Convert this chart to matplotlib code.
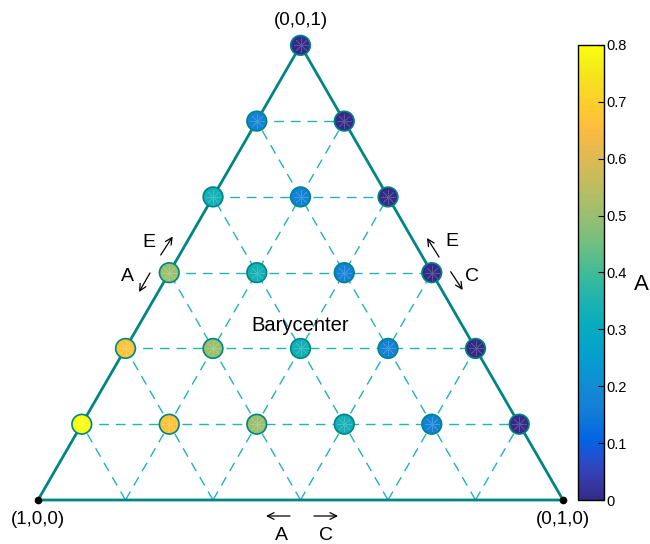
import numpy as np
import matplotlib
matplotlib.use("Agg")
import matplotlib.pyplot as plt
from matplotlib.colors import LinearSegmentedColormap, Normalize

plt.rcParams['font.family'] = ['Liberation Sans', 'DejaVu Sans']

# ternary grid nodes, in sixths (a + b + c = 6)
node_a = [0, 1, 0, 2, 1, 0, 3, 2, 1, 0, 4, 3, 2, 1, 0, 5, 4, 3, 2, 1, 0]
node_c = [6, 5, 5, 4, 4, 4, 3, 3, 3, 3, 2, 2, 2, 2, 2, 1, 1, 1, 1, 1, 1]
node_val = [0.0,
            0.17, 0.0,
            0.33, 0.17, 0.0,
            0.5, 0.33, 0.17, 0.0,
            0.67, 0.5, 0.33, 0.17, 0.0,
            0.83, 0.67, 0.5, 0.33, 0.17, 0.0]
cbar_ticks = [0, 0.1, 0.2, 0.3, 0.4, 0.5, 0.6, 0.7, 0.8]
n_div = 6

# parula-like colormap
parula = LinearSegmentedColormap.from_list("parula", [
    (0.2081, 0.1663, 0.5292), (0.2123, 0.2138, 0.6270), (0.1959, 0.2645, 0.7279),
    (0.1253, 0.3242, 0.8303), (0.0117, 0.3875, 0.8820), (0.0329, 0.4430, 0.8720),
    (0.0723, 0.4887, 0.8467), (0.0793, 0.5200, 0.8312), (0.0641, 0.5570, 0.8240),
    (0.0343, 0.5966, 0.8199), (0.0239, 0.6287, 0.8038), (0.0228, 0.6535, 0.7768),
    (0.0384, 0.6743, 0.7436), (0.0843, 0.6928, 0.7062), (0.1453, 0.7098, 0.6646),
    (0.2178, 0.7250, 0.6193), (0.3022, 0.7376, 0.5712), (0.3953, 0.7459, 0.5244),
    (0.4871, 0.7491, 0.4840), (0.5709, 0.7485, 0.4494), (0.6473, 0.7456, 0.4188),
    (0.7184, 0.7411, 0.3905), (0.7858, 0.7356, 0.3633), (0.8507, 0.7299, 0.3360),
    (0.9139, 0.7258, 0.3063), (0.9739, 0.7314, 0.2666), (0.9990, 0.7653, 0.2164),
    (0.9880, 0.8066, 0.1794), (0.9697, 0.8481, 0.1475), (0.9589, 0.8949, 0.1132),
    (0.9661, 0.9514, 0.0755), (0.99, 0.99, 0.05)])
norm = Normalize(0, 0.8)

H = np.sqrt(3) / 2


def tern(a, b, c):
    # (1,0,0) bottom left, (0,1,0) bottom right, (0,0,1) top
    return b + c / 2, c * H


PX = 525.0  # pixels per unit
def px(x, y):
    return (x - 38) / PX, (500 - y) / PX


fig = plt.figure(figsize=(6.5, 5.44), dpi=100)
ax = fig.add_axes([0, 0, 1, 1])
x0, y1 = px(0, 0)
x1, y0 = px(650, 544)
ax.set_xlim(x0, x1)
ax.set_ylim(y0, y1)
ax.axis('off')

grid_col = '#22b3b3'
edge_col = '#008585'

# dashed grid lines of constant a, b and c
for k in range(1, n_div):
    f = k / n_div
    for p, q in [(tern(f, 1 - f, 0), tern(f, 0, 1 - f)),
                 (tern(1 - f, f, 0), tern(0, f, 1 - f)),
                 (tern(1 - f, 0, f), tern(0, 1 - f, f))]:
        ax.plot([p[0], q[0]], [p[1], q[1]], color=grid_col, lw=1.0,
                dashes=(7, 5), zorder=1)

# triangle outline
corners = [tern(1, 0, 0), tern(0, 1, 0), tern(0, 0, 1), tern(1, 0, 0)]
ax.plot([c[0] for c in corners], [c[1] for c in corners], color=edge_col,
        lw=2.0, zorder=2, solid_joinstyle='miter')
ax.plot([corners[0][0], corners[1][0]], [corners[0][1], corners[1][1]], 'o',
        color='black', ms=4.5, zorder=3)

# colored nodes
na = np.array(node_a) / n_div
nc = np.array(node_c) / n_div
nb = 1 - na - nc
xs, ys = tern(na, nb, nc)
ax.scatter(xs, ys, c=node_val, cmap=parula, norm=norm, s=200,
           edgecolors=edge_col, linewidths=1.2, zorder=4)
ax.scatter(xs, ys, marker=(8, 2, 0), s=110, color='white', alpha=0.2,
           linewidths=0.5, zorder=5)

# vertex labels
fs = 13.5
tx, ty = tern(0, 0, 1)
ax.text(tx, ty + 25 / PX, '(0,0,1)', ha='center', va='center', fontsize=fs)
tx, ty = tern(1, 0, 0)
ax.text(tx, ty - 20 / PX, '(1,0,0)', ha='center', va='center', fontsize=fs)
tx, ty = tern(0, 1, 0)
ax.text(tx, ty - 20 / PX, '(0,1,0)', ha='center', va='center', fontsize=fs)

bx, by = tern(1 / 3, 1 / 3, 1 / 3)
ax.text(bx, by + 23 / PX, 'Barycenter', ha='center', va='center', fontsize=14.5)

# direction hints along the edges
arrows = [((160.7, 255), (172.7, 236.5)), ((150, 273), (139, 292)),
          ((439, 257), (427, 238)), ((450.7, 271.7), (462.7, 290)),
          ((290, 516), (266, 516)), ((314, 516), (338, 516))]
for s, e in arrows:
    ax.annotate('', xy=px(*e), xytext=px(*s),
                arrowprops=dict(arrowstyle='->', lw=0.9, color='black',
                                shrinkA=0, shrinkB=0, mutation_scale=12))
hints = [('E', 149, 243), ('A', 127, 277), ('E', 452, 242), ('C', 472, 277),
         ('A', 281, 536), ('C', 326, 536)]
for t, hx, hy in hints:
    ax.text(*px(hx, hy), t, ha='center', va='center', fontsize=14)

# colorbar
cax = fig.add_axes([578 / 650, 44 / 544, 26 / 650, 455 / 544])
sm = plt.cm.ScalarMappable(norm=norm, cmap=parula)
cb = fig.colorbar(sm, cax=cax, ticks=cbar_ticks)
cb.outline.set_linewidth(1.0)
cb.ax.tick_params(direction='in', length=4, width=0.8, labelsize=10.5, pad=2)
cb.ax.set_yticklabels(['0', '0.1', '0.2', '0.3', '0.4', '0.5', '0.6', '0.7', '0.8'])
fig.text(634 / 650, 1 - 285 / 544, 'A', fontsize=16, ha='left', va='center')

fig.savefig('out.png', dpi=100)
